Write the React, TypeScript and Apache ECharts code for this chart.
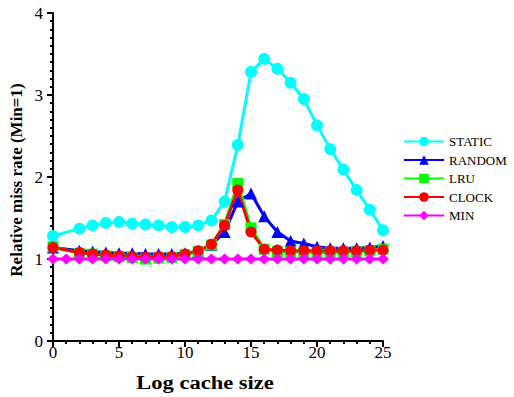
import React, { useEffect, useRef } from "react";
import * as echarts from "echarts";

const xMain = [0, 2, 3, 4, 5, 6, 7, 8, 9, 10, 11, 12, 13, 14, 15, 16, 17, 18, 19, 20, 21, 22, 23, 24, 25];
const xMin = [0, 1, 2, 3, 4, 5, 6, 7, 8, 9, 10, 11, 12, 13, 14, 15, 16, 17, 18, 19, 20, 21, 22, 23, 24, 25];

const staticVals = [1.28, 1.37, 1.41, 1.44, 1.45, 1.43, 1.42, 1.41, 1.39, 1.39, 1.41, 1.47, 1.7, 2.39, 3.28, 3.44, 3.32, 3.15, 2.95, 2.63, 2.34, 2.09, 1.84, 1.6, 1.35];
const randomVals = [1.14, 1.1, 1.09, 1.08, 1.07, 1.07, 1.06, 1.06, 1.06, 1.07, 1.09, 1.17, 1.33, 1.7, 1.8, 1.52, 1.33, 1.22, 1.19, 1.15, 1.13, 1.13, 1.13, 1.14, 1.16];
const lruVals = [1.15, 1.07, 1.06, 1.04, 1.03, 1.02, 1.0, 1.01, 1.02, 1.05, 1.09, 1.17, 1.42, 1.92, 1.38, 1.12, 1.09, 1.09, 1.08, 1.08, 1.08, 1.08, 1.09, 1.1, 1.12];
const clockVals = [1.14, 1.08, 1.06, 1.05, 1.04, 1.03, 1.02, 1.03, 1.03, 1.06, 1.1, 1.18, 1.41, 1.84, 1.33, 1.12, 1.11, 1.1, 1.1, 1.1, 1.1, 1.1, 1.1, 1.11, 1.11];
const minVals = [1, 1, 1, 1, 1, 1, 1, 1, 1, 1, 1, 1, 1, 1, 1, 1, 1, 1, 1, 1, 1, 1, 1, 1, 1, 1];

const seriesNames = ["STATIC", "RANDOM", "LRU", "CLOCK", "MIN"];
const xTitle = "Log cache size";
const yTitle = "Relative miss rate (Min=1)";

const SERIF = "Times New Roman, Liberation Serif, DejaVu Serif, serif";

function pairs(xs: number[], ys: number[]) {
  return xs.map((x, i) => [x, ys[i]]);
}

export default function App() {
  const ref = useRef<HTMLDivElement>(null);
  useEffect(() => {
    if (!ref.current) return;
    const chart = echarts.init(ref.current, null, { renderer: "svg" });
    const mk = (name: string, data: number[][], color: string, symbol: string, size: number | number[]) => ({
      name,
      type: "line",
      data,
      symbol,
      symbolSize: size,
      showAllSymbol: true,
      lineStyle: { color, width: 3 },
      itemStyle: { color },
      emphasis: { disabled: true },
    });
    chart.setOption({
      animation: false,
      backgroundColor: "#ffffff",
      grid: { left: 53, right: 131, top: 13, bottom: 56, containLabel: false },
      xAxis: {
        type: "value",
        min: 0,
        max: 25,
        interval: 5,
        axisLine: { show: true, lineStyle: { color: "#000", width: 2 } },
        axisTick: { show: true, length: 6, lineStyle: { color: "#000", width: 2 } },
        minorTick: { show: true, splitNumber: 5, length: 3, lineStyle: { color: "#000", width: 2 } },
        splitLine: { show: false },
        axisLabel: { color: "#000", fontFamily: SERIF, fontSize: 17, margin: 3 },
      },
      yAxis: {
        type: "value",
        min: 0,
        max: 4,
        interval: 1,
        axisLine: { show: true, lineStyle: { color: "#000", width: 2 } },
        axisTick: { show: true, length: 6, lineStyle: { color: "#000", width: 2 } },
        minorTick: { show: true, splitNumber: 10, length: 3, lineStyle: { color: "#000", width: 2 } },
        splitLine: { show: false },
        axisLabel: { color: "#000", fontFamily: SERIF, fontSize: 17, margin: 10 },
      },
      legend: {
        orient: "vertical",
        left: 398,
        top: 130,
        itemWidth: 40,
        itemHeight: 12,
        itemGap: 5.5,
        data: seriesNames,
        textStyle: { color: "#000", fontFamily: SERIF, fontSize: 13 },
      },
      graphic: [
        {
          type: "text",
          x: 205,
          y: 383,
          scaleX: 1.25,
          style: {
            text: xTitle,
            fontFamily: SERIF,
            fontSize: 18,
            fontWeight: "bold",
            fill: "#000",
            textAlign: "center",
            textVerticalAlign: "middle",
          },
        },
        {
          type: "text",
          x: 16,
          y: 180,
          rotation: Math.PI / 2,
          style: {
            text: yTitle,
            fontFamily: SERIF,
            fontSize: 17,
            fontWeight: "bold",
            fill: "#000",
            textAlign: "center",
            textVerticalAlign: "middle",
          },
        },
      ],
      series: [
        mk(seriesNames[0], pairs(xMain, staticVals), "#00FFFF", "circle", 12),
        mk(seriesNames[1], pairs(xMain, randomVals), "#0000FF", "triangle", 12),
        mk(seriesNames[2], pairs(xMain, lruVals), "#00FF00", "rect", 11),
        mk(seriesNames[3], pairs(xMain, clockVals), "#FF0000", "circle", 11),
        mk(seriesNames[4], pairs(xMin, minVals), "#FF00FF", "diamond", [12, 11]),
      ],
    });
    return () => chart.dispose();
  }, []);
  return <div ref={ref} style={{ width: 514, height: 397, position: "absolute", left: 0, top: 0 }} />;
}
